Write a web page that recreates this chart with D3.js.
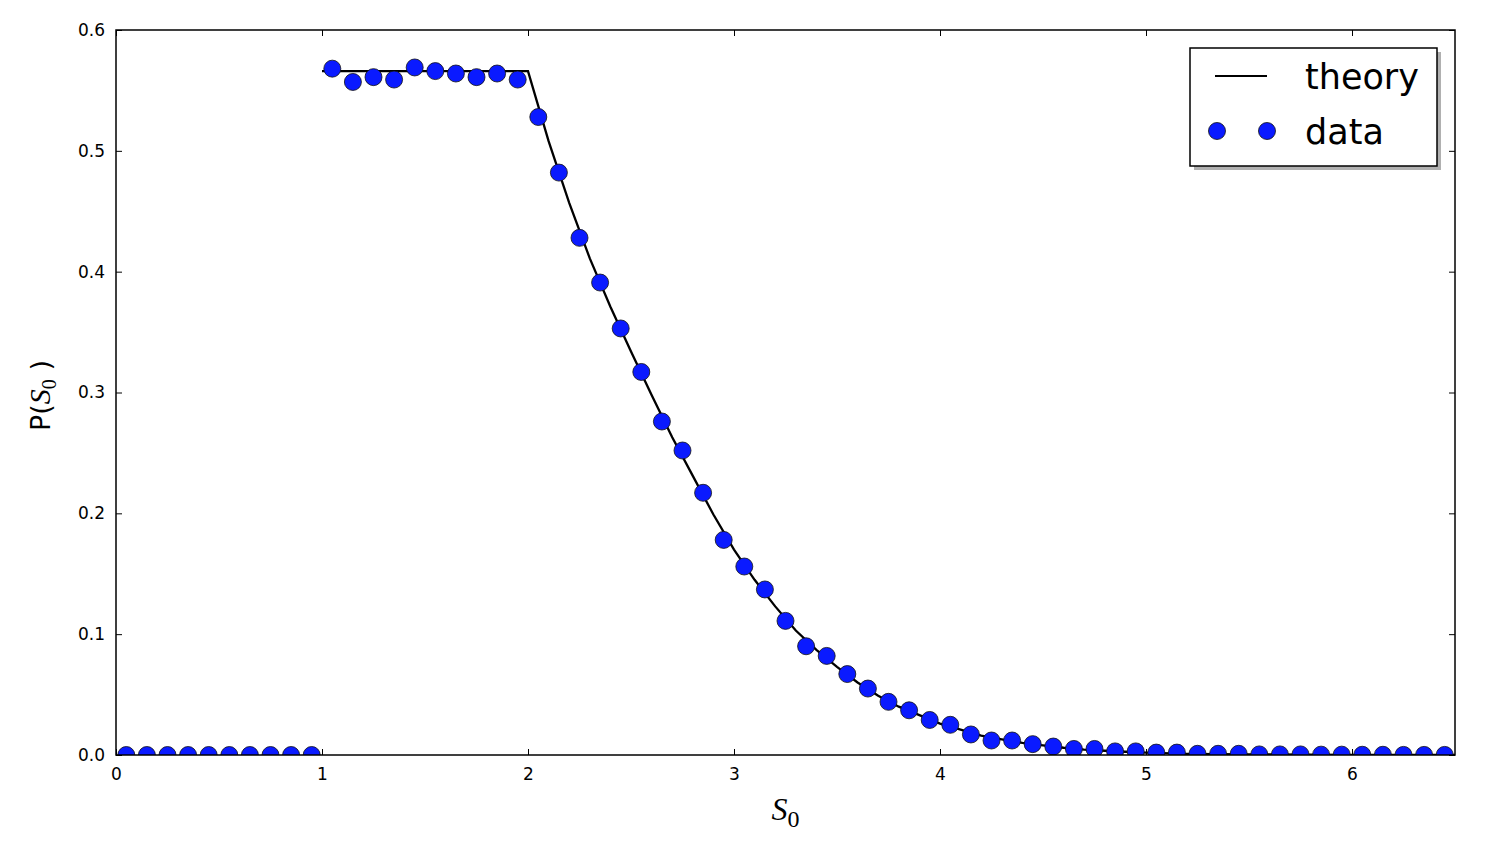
<!DOCTYPE html>
<html>
<head>
<meta charset="utf-8">
<script src="https://cdn.jsdelivr.net/npm/d3@7"></script>
<style>
body { margin: 0; background: #fff; }
svg { display: block; }
</style>
</head>
<body>
<div id="chart"></div>
<script>
// data: measured P(S0) at bin centres, and the theory curve
var dataX = d3.range(65).map(i => +(0.05 + i * 0.1).toFixed(2))
var dataY = [0, 0, 0, 0, 0, 0, 0, 0, 0, 0,
    0.568, 0.557, 0.561, 0.559, 0.569, 0.566, 0.564, 0.561, 0.564, 0.559,
    0.528, 0.482, 0.428, 0.391, 0.353, 0.317, 0.276, 0.252, 0.217, 0.178,
    0.156, 0.137, 0.111, 0.090, 0.082, 0.067, 0.055, 0.044, 0.037, 0.029,
    0.025, 0.017, 0.012, 0.012, 0.009, 0.007, 0.005, 0.005, 0.003, 0.003,
    0.002, 0.002, 0.001, 0.001, 0.001, 0.0005, 0.0005, 0.0005, 0.0003, 0.0003,
    0.0002, 0.0002, 0.0001, 0.0001, 0.0001]
var theoryX = [1.0, 2.0, 2.1, 2.2, 2.3, 2.4, 2.5, 2.6, 2.7, 2.8, 2.9, 3.0, 3.1, 3.2, 3.3, 3.4, 3.5,
    3.6, 3.7, 3.8, 3.9, 4.0, 4.1, 4.2, 4.3, 4.4, 4.5, 4.6, 4.7, 4.8, 4.9, 5.0, 5.2, 5.5, 6.0, 6.5]
var theoryY = [0.566, 0.566, 0.508, 0.457, 0.411, 0.371, 0.334, 0.298, 0.263, 0.231, 0.199, 0.170,
    0.145, 0.123, 0.103, 0.087, 0.073, 0.060, 0.049, 0.040, 0.033, 0.026, 0.021, 0.016, 0.013,
    0.010, 0.008, 0.006, 0.0045, 0.0035, 0.0027, 0.002, 0.001, 0.0005, 0.0001, 0]
var xTicks = [0, 1, 2, 3, 4, 5, 6]
var yTicks = [0.0, 0.1, 0.2, 0.3, 0.4, 0.5, 0.6]

var W = 1494, H = 842
var margin = { top: 30, right: 39, bottom: 87, left: 116 }
var width = W - margin.left - margin.right
var height = H - margin.top - margin.bottom

var svg = d3.select("#chart").append("svg")
    .attr("width", W)
    .attr("height", H)
    .style("font-family", "'DejaVu Sans', sans-serif")

var x = d3.scaleLinear().domain([0, 6.5]).range([0, width])
var y = d3.scaleLinear().domain([0, 0.6]).range([height, 0])

var g = svg.append("g")
    .attr("transform", "translate(" + margin.left + "," + margin.top + ")")

svg.append("defs").append("clipPath").attr("id", "clip")
    .append("rect").attr("width", width).attr("height", height)

var plot = g.append("g").attr("clip-path", "url(#clip)")

var line = d3.line()
    .x((d, i) => x(theoryX[i]))
    .y(d => y(d))

plot.append("path")
    .datum(theoryY)
    .attr("d", line)
    .attr("fill", "none")
    .attr("stroke", "black")
    .attr("stroke-width", 2.3)

plot.selectAll("circle.pt")
    .data(dataY)
    .enter().append("circle")
    .attr("class", "pt")
    .attr("cx", (d, i) => x(dataX[i]))
    .attr("cy", d => y(d))
    .attr("r", 8.5)
    .attr("fill", "#0a1aff")
    .attr("stroke", "#111")
    .attr("stroke-width", 0.8)

// axes, ticks pointing inward on all sides
g.append("g")
    .attr("transform", "translate(0," + height + ")")
    .call(d3.axisBottom(x).tickValues(xTicks).tickSize(-6).tickPadding(13).tickFormat(d3.format("d")))
    .call(a => {
        a.select(".domain").remove()
        a.selectAll("text").attr("font-size", 17).attr("fill", "#000").style("font-family", "'DejaVu Sans', sans-serif")
    })
g.append("g")
    .call(d3.axisTop(x).tickValues(xTicks).tickSize(-6).tickFormat(""))
    .call(a => a.select(".domain").remove())
g.append("g")
    .call(d3.axisLeft(y).tickValues(yTicks).tickSize(-6).tickPadding(11).tickFormat(d3.format(".1f")))
    .call(a => {
        a.select(".domain").remove()
        a.selectAll("text").attr("font-size", 17).attr("fill", "#000").style("font-family", "'DejaVu Sans', sans-serif")
    })
g.append("g")
    .attr("transform", "translate(" + width + ",0)")
    .call(d3.axisRight(y).tickValues(yTicks).tickSize(-6).tickFormat(""))
    .call(a => a.select(".domain").remove())

g.append("rect")
    .attr("width", width)
    .attr("height", height)
    .attr("fill", "none")
    .attr("stroke", "black")
    .attr("stroke-width", 1.5)

// axis labels
var xl = svg.append("text")
    .attr("x", margin.left + x(3.25))
    .attr("y", 820)
    .attr("text-anchor", "middle")
    .style("font-family", "'Liberation Serif', serif")
    .attr("font-size", 32)
xl.append("tspan").attr("font-style", "italic").text("S")
xl.append("tspan").attr("font-size", 24).attr("dy", 7).text("0")

var yl = svg.append("text")
    .attr("transform", "translate(50," + (margin.top + height / 2 + 3) + ") rotate(-90)")
    .attr("text-anchor", "middle")
    .attr("font-size", 27)
yl.append("tspan").text("P(")
yl.append("tspan").attr("font-style", "italic").style("font-family", "'Liberation Serif', serif").attr("font-size", 30).text("S")
yl.append("tspan").style("font-family", "'Liberation Serif', serif").attr("font-size", 20).attr("dy", 6).text("0")
yl.append("tspan").attr("dy", -6).text(" )")

// legend
var lg = svg.append("g").attr("transform", "translate(1190,48)")
lg.append("rect").attr("x", 4).attr("y", 4).attr("width", 247).attr("height", 118).attr("fill", "#b0b0b0")
lg.append("rect").attr("width", 247).attr("height", 118).attr("fill", "white").attr("stroke", "black").attr("stroke-width", 1.5)
lg.append("line").attr("x1", 25).attr("x2", 77).attr("y1", 28).attr("y2", 28).attr("stroke", "black").attr("stroke-width", 2)
lg.selectAll("circle").data([27, 77]).enter().append("circle")
    .attr("cx", d => d).attr("cy", 83).attr("r", 8.5)
    .attr("fill", "#0a1aff").attr("stroke", "#111").attr("stroke-width", 0.8)
lg.append("text").attr("x", 115).attr("y", 41).attr("font-size", 35).text("theory")
lg.append("text").attr("x", 115).attr("y", 96).attr("font-size", 35).text("data")
</script>
</body>
</html>
